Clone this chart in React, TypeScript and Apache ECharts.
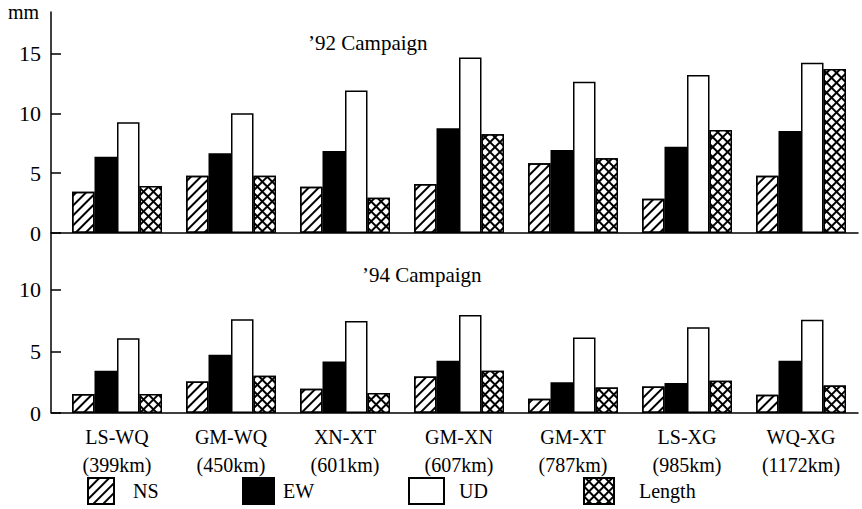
import React, { useEffect, useRef } from "react";
import * as echarts from "echarts";

const categories = ["LS-WQ", "GM-WQ", "XN-XT", "GM-XN", "GM-XT", "LS-XG", "WQ-XG"];
const distances = ["(399km)", "(450km)", "(601km)", "(607km)", "(787km)", "(985km)", "(1172km)"];

const ns92 = [3.45, 4.79, 3.87, 4.1, 5.83, 2.87, 4.79];
const ew92 = [6.37, 6.66, 6.85, 8.75, 6.94, 7.21, 8.52];
const ud92 = [9.25, 10.0, 11.9, 14.65, 12.64, 13.2, 14.23];
const len92 = [3.93, 4.79, 2.95, 8.25, 6.24, 8.6, 13.7];

const ns94 = [1.54, 2.56, 1.97, 2.97, 1.16, 2.16, 1.49];
const ew94 = [3.43, 4.73, 4.19, 4.24, 2.5, 2.43, 4.24];
const ud94 = [6.07, 7.62, 7.48, 7.97, 6.13, 6.97, 7.57];
const len94 = [1.54, 3.03, 1.62, 3.43, 2.08, 2.62, 2.24];

const topTicks = [0, 5, 10, 15];
const bottomTicks = [0, 5, 10];

const FONT = "Liberation Serif";

export default function App() {
  const ref = useRef<HTMLDivElement>(null);
  useEffect(() => {
    document.body.style.margin = "0";
    const chart = echarts.init(ref.current!, null, { renderer: "svg" });

    const hatch = {
      symbol: "rect",
      color: "#000",
      dashArrayX: [1, 0],
      dashArrayY: [1.8, 5],
      rotation: -Math.PI / 4,
      symbolSize: 1,
    };
    const cross = {
      symbol: "rect",
      color: "#fff",
      dashArrayX: [4.5, 1.8],
      dashArrayY: [4.5, 1.8],
      rotation: Math.PI / 4,
      symbolSize: 1,
    };
    const border = { borderColor: "#000", borderWidth: 1.5 };
    const styles: Record<string, any> = {
      NS: { color: "#fff", decal: hatch, ...border },
      EW: { color: "#000", ...border },
      UD: { color: "#fff", ...border },
      Length: { color: "#000", decal: cross, ...border },
    };

    const mk = (name: string, data: number[], idx: number) => ({
      name,
      type: "bar",
      xAxisIndex: idx,
      yAxisIndex: idx,
      data,
      barWidth: 22.5,
      barGap: "0%",
      itemStyle: styles[name],
      emphasis: { disabled: true },
    });

    const yAx = (idx: number, max: number, ticks: number[]) => ({
      type: "value",
      gridIndex: idx,
      min: 0,
      max,
      interval: 5,
      offset: 9,
      axisLine: { show: true, lineStyle: { color: "#000", width: 1.5 } },
      axisTick: {
        show: true,
        inside: true,
        length: 10,
        customValues: ticks,
        lineStyle: { color: "#000", width: 1.5 },
      },
      axisLabel: {
        customValues: ticks,
        margin: 10,
        fontFamily: FONT,
        fontSize: 22,
        color: "#000",
        formatter: (v: number) => (v % 5 === 0 ? String(v) : ""),
      },
      splitLine: { show: false },
    });

    const legendItem = (name: string, left: number, w: number, pad: number) => ({
      data: [name],
      left,
      top: 477,
      padding: 0,
      itemWidth: w,
      itemHeight: 26,
      selectedMode: false,
      icon: "rect",
      textStyle: { fontFamily: FONT, fontSize: 20, color: "#000", padding: [0, 0, 0, pad] },
    });

    chart.setOption({
      animation: false,
      backgroundColor: "#fff",
      title: [
        {
          text: "\u201992 Campaign",
          left: 308,
          top: 32,
          padding: 0,
          textStyle: { fontFamily: FONT, fontSize: 21, fontWeight: "normal", color: "#000" },
        },
        {
          text: "\u201994 Campaign",
          left: 362,
          top: 264,
          padding: 0,
          textStyle: { fontFamily: FONT, fontSize: 21, fontWeight: "normal", color: "#000" },
        },
      ],
      legend: [
        legendItem("NS", 87, 26, 14),
        legendItem("EW", 242, 31, 4),
        legendItem("UD", 408, 35, 10),
        legendItem("Length", 583, 30, 20),
      ],
      grid: [
        { left: 60, top: 12, width: 798, height: 221 },
        { left: 60, top: 233, width: 798, height: 180 },
      ],
      xAxis: [
        {
          type: "category",
          gridIndex: 0,
          data: categories,
          axisLine: { show: true, lineStyle: { color: "#000", width: 1.5 } },
          axisTick: { show: false },
          axisLabel: { show: false },
        },
        {
          type: "category",
          gridIndex: 1,
          data: categories,
          axisLine: { show: true, lineStyle: { color: "#000", width: 1.5 } },
          axisTick: { show: false },
          axisLabel: {
            interval: 0,
            margin: 10,
            fontFamily: FONT,
            fontSize: 20,
            lineHeight: 28,
            color: "#000",
            formatter: (v: string, i: number) => `${v}\n${distances[i]}`,
          },
        },
      ],
      yAxis: [yAx(0, 18.46, topTicks), yAx(1, 14.63, bottomTicks)],
      graphic: [
        {
          type: "text",
          left: 8,
          top: 2,
          style: { text: "mm", fontFamily: FONT, fontSize: 20, fill: "#000" },
        },
        {
          type: "line",
          shape: { x1: 51, y1: 233, x2: 60, y2: 233 },
          style: { stroke: "#000", lineWidth: 1.5 },
        },
        {
          type: "line",
          shape: { x1: 51, y1: 413, x2: 60, y2: 413 },
          style: { stroke: "#000", lineWidth: 1.5 },
        },
      ],
      series: [
        mk("NS", ns92, 0),
        mk("EW", ew92, 0),
        mk("UD", ud92, 0),
        mk("Length", len92, 0),
        mk("NS", ns94, 1),
        mk("EW", ew94, 1),
        mk("UD", ud94, 1),
        mk("Length", len94, 1),
      ],
    });
    return () => chart.dispose();
  }, []);
  return <div ref={ref} style={{ width: 862, height: 509 }} />;
}
